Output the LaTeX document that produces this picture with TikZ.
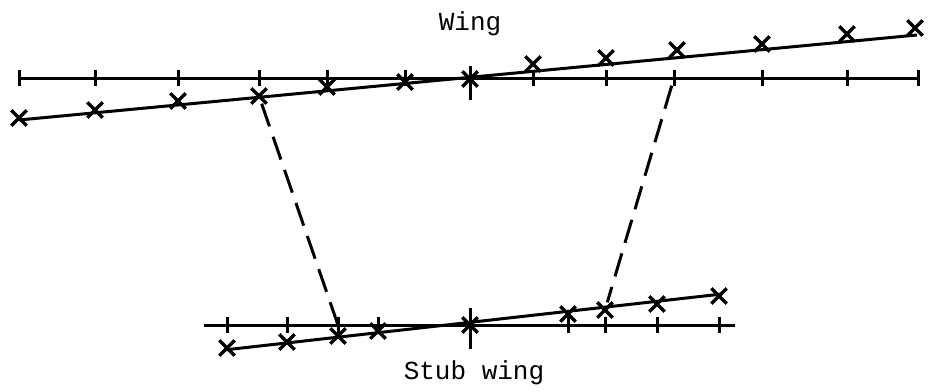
\documentclass[tikz,border=0pt]{standalone}
\usepackage{fontspec}
\setmonofont{Liberation Mono}
\usetikzlibrary{shapes.misc}
\tikzset{xpt/.style={cross out,draw,line width=3.4pt,minimum size=12pt,inner sep=0pt},
  lbl/.style={font=\ttfamily\fontsize{26}{29}\selectfont,anchor=base},
  link/.style={line width=3pt,dash pattern=on 24pt off 11pt}}

\begin{document}
\begin{tikzpicture}[x=1pt,y=-1pt,line width=3pt]
  \useasboundingbox (0,0) rectangle (936,391);
  % wing
  \draw (19,78)--(918,78);
  \foreach \x [count=\i] in {19,95,178,259,327,405,470,533,606,674,762,847,918}{
    \coordinate (wt\i) at (\x,78);
    \draw (\x,70)--(\x,86);}
  \draw (470,66)--(470,100);
  \draw (19,120)--(917,35);
  \foreach \x/\y [count=\i] in {19/118,95/110,178/101,259/96,327/87,405/82,470/79,
      533/64,606/58,677/50,762/44,847/34,915/28}
    \node[xpt] (w\i) at (\x,\y){};
  \node[lbl] (wing) at (470,30){Wing};
  % stub wing
  \draw (204,325)--(735,325);
  \foreach \x [count=\i] in {227,287,338,378,470,568,605,657,719}{
    \coordinate (st\i) at (\x,325);
    \draw (\x,317)--(\x,333);}
  \draw (470,308)--(470,349);
  \draw (224,350)--(722,294);
  \foreach \x/\y [count=\i] in {227/348,287/342,338/336,378/331,470/325,568/314,
      605/310,657/304,719/296}
    \node[xpt] (s\i) at (\x,\y){};
  \node[lbl] (stub) at (474,379){Stub wing};
  % links
  \draw[link] (w4)--(st3);
  \draw[link,shorten <=8pt] (wt10)--(s7);
\end{tikzpicture}
\end{document}
